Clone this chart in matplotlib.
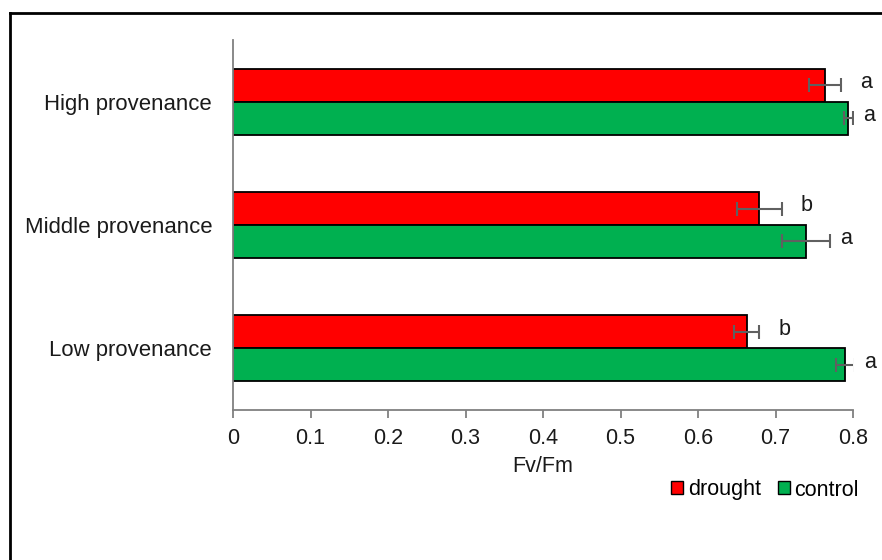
import matplotlib
matplotlib.use("Agg")
import matplotlib.pyplot as plt
from matplotlib.lines import Line2D
from matplotlib.patches import Patch
import numpy as np

plt.rcParams['font.family'] = ['Liberation Sans', 'DejaVu Sans']

categories = ["Low provenance", "Middle provenance", "High provenance"]
drought = [0.663, 0.679, 0.764]
drought_err = [0.016, 0.029, 0.021]
drought_letters = ["b", "b", "a"]
control = [0.790, 0.739, 0.794]
control_err = [0.012, 0.031, 0.006]
control_letters = ["a", "a", "a"]
xticks = [0, 0.1, 0.2, 0.3, 0.4, 0.5, 0.6, 0.7, 0.8]

fig = plt.figure(figsize=(8.82, 5.6), dpi=100)
ax = fig.add_axes([233/882, 1-410/560, 620/882, 370/560])

y = np.arange(len(categories))
h = 0.267
fs = 15.5
red = "#FF0000"
green = "#00B050"
errc = "#606060"
txtc = "#1a1a1a"

ax.barh(y + h/2, drought, height=h, color=red, edgecolor="black", linewidth=1.3, zorder=2)
ax.barh(y - h/2, control, height=h, color=green, edgecolor="black", linewidth=1.3, zorder=2)
ax.errorbar(drought, y + h/2, xerr=drought_err, fmt="none", ecolor=errc, elinewidth=1.5, capsize=5, capthick=1.5, zorder=3)
ax.errorbar(control, y - h/2, xerr=control_err, fmt="none", ecolor=errc, elinewidth=1.5, capsize=5, capthick=1.5, zorder=3)

for i in range(len(categories)):
    ax.annotate(drought_letters[i], (drought[i] + drought_err[i], y[i] + h/2), xytext=(18, 2),
                textcoords="offset points", ha="center", va="center", fontsize=fs, color=txtc,
                annotation_clip=False)
    ax.annotate(control_letters[i], (control[i] + control_err[i], y[i] - h/2), xytext=(11.5, 2),
                textcoords="offset points", ha="center", va="center", fontsize=fs, color=txtc,
                annotation_clip=False)

ax.set_xlim(0, 0.8)
ax.set_ylim(-0.5, 2.5)
ax.set_xticks(xticks)
ax.set_xticklabels([f"{v:g}" for v in xticks], fontsize=fs, color=txtc)
ax.set_yticks(y)
ax.set_yticklabels(categories, fontsize=15.9, color=txtc)
ax.tick_params(axis="y", length=0, pad=15)
ax.tick_params(axis="x", length=6, width=1.3, color="#808080", pad=7, direction="out")
for s in ["top", "right"]:
    ax.spines[s].set_visible(False)
for s in ["left", "bottom"]:
    ax.spines[s].set_color("#808080")
    ax.spines[s].set_linewidth(1.3)
ax.set_xlabel("Fv/Fm", fontsize=fs, color=txtc, labelpad=5)

handles = [Patch(facecolor=red, edgecolor="black", linewidth=1.0),
           Patch(facecolor=green, edgecolor="black", linewidth=1.0)]
fig.legend(handles, ["drought", "control"], loc="center", bbox_to_anchor=(765/882, 1-490/560),
           ncol=2, frameon=False, fontsize=fs, handlelength=0.55, handleheight=0.55,
           handletextpad=0.2, columnspacing=0.8, borderpad=0)

# outer frame (top and left edges visible)
fig.add_artist(Line2D([10/882, 10/882], [0, 1-13/560], transform=fig.transFigure, color="black", linewidth=2))
fig.add_artist(Line2D([10/882, 1], [1-13/560, 1-13/560], transform=fig.transFigure, color="black", linewidth=2))

fig.savefig("out.png", dpi=100)
